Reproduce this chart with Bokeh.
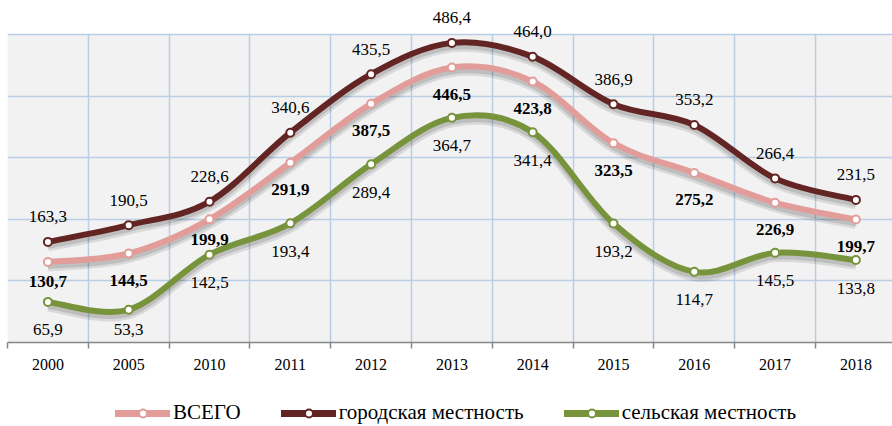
from bokeh.plotting import figure
from bokeh.layouts import column
from bokeh.models import (Range1d, FixedTicker, ColumnDataSource, LabelSet, Legend, LegendItem,
                          BoxAnnotation)
from bokeh.embed import file_html
from bokeh.resources import INLINE

# ---- data ----
years = ["2000", "2005", "2010", "2011", "2012", "2013", "2014", "2015", "2016", "2017", "2018"]
vsego = [130.7, 144.5, 199.9, 291.9, 387.5, 446.5, 423.8, 323.5, 275.2, 226.9, 199.7]
gorod = [163.3, 190.5, 228.6, 340.6, 435.5, 486.4, 464.0, 386.9, 353.2, 266.4, 231.5]
selo = [65.9, 53.3, 142.5, 193.4, 289.4, 364.7, 341.4, 193.2, 114.7, 145.5, 133.8]
series_names = ["ВСЕГО", "городская местность", "сельская местность"]
y_max = 500

# ---- styles / layout ----
C_VSEGO = "#E29C9A"
C_GOROD = "#632523"
C_SELO = "#77933C"
GRID = "#B9CDE5"
FONT = "Liberation Serif"
PX_PER_CAT = 80.8
W = 892
MAIN_H = 380
LEG_H = 46
LEFT = 7
FRAME_H = 342          # frame spans page y 0..342
PX_PER_UNIT = 308 / y_max   # value axis 0..500 drawn from y=342 to y=34

xs = list(range(len(years)))

p = figure(width=W, height=MAIN_H, output_backend="svg", toolbar_location=None,
           x_range=Range1d(-0.5, -0.5 + (W - LEFT) / PX_PER_CAT),
           y_range=Range1d(0, FRAME_H / PX_PER_UNIT),
           min_border_left=LEFT, min_border_right=0, min_border_top=0,
           min_border_bottom=MAIN_H - FRAME_H)
p.background_fill_color = "white"
p.border_fill_color = "white"
p.outline_line_color = None

p.add_layout(BoxAnnotation(bottom=0, top=y_max, left=-0.5, fill_color="#F2F2F2", fill_alpha=1,
                           line_color=None, level="image"))

p.yaxis.visible = False
p.ygrid.ticker = FixedTicker(ticks=[0, 100, 200, 300, 400, 500])
p.ygrid.grid_line_color = GRID
p.ygrid.grid_line_width = 1.5

ax = p.xaxis[0]
ax.ticker = FixedTicker(ticks=xs, minor_ticks=[i - 0.5 for i in range(len(years) + 1)])
ax.major_label_overrides = {i: y for i, y in zip(xs, years)}
ax.major_tick_line_color = None
ax.major_tick_out = 0
ax.major_tick_in = 0
ax.minor_tick_in = 0
ax.minor_tick_out = 6
ax.minor_tick_line_color = "#868686"
ax.minor_tick_line_width = 1.5
ax.axis_line_color = "#868686"
ax.axis_line_width = 1.5
ax.major_label_text_font = FONT
ax.major_label_text_font_size = "16px"
ax.major_label_text_color = "#000000"
ax.major_label_standoff = 10

p.xgrid.grid_line_color = None
p.xgrid.minor_grid_line_color = GRID
p.xgrid.minor_grid_line_width = 1.5
p.xgrid.cross_bounds = (0, y_max)


def bez_source(x, y, dy=0.0):
    n = len(x)
    d = dict(x0=[], y0=[], x1=[], y1=[], cx0=[], cy0=[], cx1=[], cy1=[])
    for i in range(n - 1):
        ip, inx = max(i - 1, 0), min(i + 2, n - 1)
        d["x0"].append(x[i]); d["y0"].append(y[i] + dy)
        d["x1"].append(x[i + 1]); d["y1"].append(y[i + 1] + dy)
        d["cx0"].append(x[i] + (x[i + 1] - x[ip]) / 6)
        d["cy0"].append(y[i] + dy + (y[i + 1] - y[ip]) / 6)
        d["cx1"].append(x[i + 1] - (x[inx] - x[i]) / 6)
        d["cy1"].append(y[i + 1] + dy - (y[inx] - y[i]) / 6)
    return ColumnDataSource(d)


BEZ = dict(x0="x0", y0="y0", x1="x1", y1="y1", cx0="cx0", cy0="cy0", cx1="cx1", cy1="cy1")
shadow_dy = -4.5 / PX_PER_UNIT
for vals in [vsego, gorod, selo]:
    p.bezier(**BEZ, source=bez_source(xs, vals, shadow_dy), line_color="#000000",
             line_alpha=0.10, line_width=10)
    p.bezier(**BEZ, source=bez_source(xs, vals, shadow_dy), line_color="#000000",
             line_alpha=0.12, line_width=5)

styles = [C_VSEGO, C_GOROD, C_SELO]
for vals, col in zip([vsego, gorod, selo], styles):
    p.bezier(**BEZ, source=bez_source(xs, vals), line_color=col, line_width=6, line_cap="round")
    p.scatter(xs, vals, marker="circle", size=8, fill_color="white", line_color=col, line_width=2)


def fmt(v):
    return f"{v:.1f}".replace(".", ",")


vsego_dy = [-20, -27, -20, -27, -27, -27, -27, -27, -27, -27, -27]
selo_dy = [-28, -20, -28, -28, -28, -28, -28, -28, -28, -28, -28]
lab_specs = [
    (vsego, vsego_dy, "bold"),
    (gorod, [25] * len(years), "normal"),
    (selo, selo_dy, "normal"),
]
for vals, dys, style in lab_specs:
    src = ColumnDataSource(dict(x=xs, y=vals, t=[fmt(v) for v in vals], dy=dys))
    p.add_layout(LabelSet(x="x", y="y", text="t", y_offset="dy", source=src,
                          text_align="center", text_baseline="middle",
                          text_font=FONT, text_font_size="17px", text_font_style=style,
                          text_color="#000000"))

# ---- legend strip ----
lf = figure(width=W, height=LEG_H, output_backend="svg", toolbar_location=None,
            x_range=Range1d(0, 1), y_range=Range1d(0, 1),
            min_border_left=0, min_border_right=0, min_border_top=0, min_border_bottom=0)
lf.axis.visible = False
lf.grid.visible = False
lf.outline_line_color = None
lf.background_fill_color = "white"
lf.border_fill_color = "white"

nan = float("nan")
items = []
for name, col in zip(series_names, styles):
    lr = lf.line(x=[nan], y=[nan], line_color=col, line_width=7, line_cap="round")
    sr = lf.scatter(x=[nan], y=[nan], marker="circle", size=8, fill_color="white", line_color=col,
                    line_width=2)
    items.append(LegendItem(label=name, renderers=[lr, sr], index=0))

legend = Legend(items=items, orientation="horizontal", location=(108, 1),
                label_text_font=FONT, label_text_font_size="21px", label_text_color="#000000",
                glyph_width=55, glyph_height=20, label_standoff=3, spacing=40,
                border_line_color=None, background_fill_alpha=0, padding=0, margin=0)
lf.add_layout(legend, "center")

open("out.html", "w").write(file_html(column(p, lf, spacing=0), INLINE))
